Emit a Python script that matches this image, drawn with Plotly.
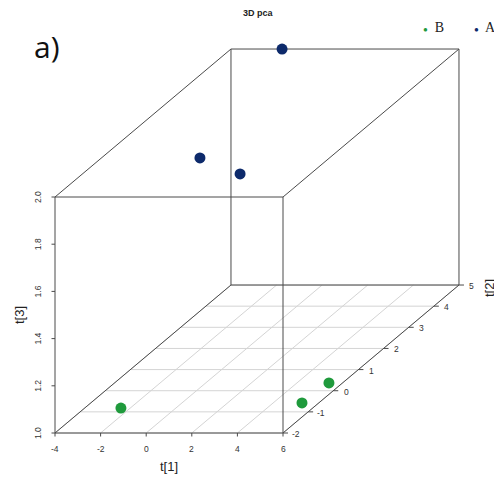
import plotly.graph_objects as go

# ---- data ----
groups = ["B", "A"]
colors = {"B": "#1f9a3c", "A": "#0d2a6b"}
b_t1 = [-1.66, 5.73, 5.81]
b_t2 = [-1.5, -1.0, 0.0]
b_t3 = [1.061, 1.038, 1.033]
a_t1 = [-1.76, -0.95, 0.81]
a_t2 = [5.0, 1.0, 1.0]
a_t3 = [2.0, 1.897, 1.829]

t1_ticks = [-4, -2, 0, 2, 4, 6]
t2_ticks = [-2, -1, 0, 1, 2, 3, 4, 5]
t3_ticks = [1.0, 1.2, 1.4, 1.6, 1.8, 2.0]
t3_labels = ["1.0", "1.2", "1.4", "1.6", "1.8", "2.0"]

# ---- page geometry (browser body margin is 8px) ----
OFF = 8
W, H = 502 - OFF, 485 - OFF

# ---- oblique projection (scatterplot3d style) ----
x0, x1 = t1_ticks[0], t1_ticks[-1]
y0, y1 = t2_ticks[0], t2_ticks[-1]
z0, z1 = t3_ticks[0], t3_ticks[-1]
PX_X = 22.8      # pixels per t1 unit
PX_Z = 236.0     # pixels per t3 unit
DEP_X = 25.14    # pixel shift per t2 unit (horizontal)
DEP_Y = 21.14    # pixel shift per t2 unit (vertical)
ORG_X, ORG_Y = 55, 433   # window pixel of (x0, y0, z0)
kx = DEP_X / PX_X
kz = DEP_Y / PX_Z


def proj(a, b, c):
    return a + (b - y0) * kx, c + (b - y0) * kz


def segs(pairs):
    xs, ys = [], []
    for p, q in pairs:
        X1, Y1 = proj(*p)
        X2, Y2 = proj(*q)
        xs += [X1, X2, None]
        ys += [Y1, Y2, None]
    return xs, ys


def paper(px, py):
    return (px - OFF) / W, 1 - (py - OFF) / H


fig = go.Figure()

# floor grid
grid = []
for v in t2_ticks:
    grid.append(((x0, v, z0), (x1, v, z0)))
for u in t1_ticks:
    grid.append(((u, y0, z0), (u, y1, z0)))
gx, gy = segs(grid)
fig.add_trace(go.Scatter(x=gx, y=gy, mode="lines", line=dict(color="#d4d4d4", width=1),
                         hoverinfo="skip", showlegend=False))

# box
box = [
    ((x0, y0, z0), (x1, y0, z0)), ((x0, y0, z0), (x0, y0, z1)),
    ((x0, y0, z1), (x1, y0, z1)), ((x1, y0, z0), (x1, y0, z1)),
    ((x0, y1, z0), (x1, y1, z0)), ((x0, y1, z0), (x0, y1, z1)),
    ((x0, y1, z1), (x1, y1, z1)), ((x1, y1, z0), (x1, y1, z1)),
    ((x0, y0, z0), (x0, y1, z0)), ((x1, y0, z0), (x1, y1, z0)),
    ((x0, y0, z1), (x0, y1, z1)), ((x1, y0, z1), (x1, y1, z1)),
]
bx, by = segs(box)
fig.add_trace(go.Scatter(x=bx, y=by, mode="lines", line=dict(color="#4a4a4a", width=1),
                         hoverinfo="skip", showlegend=False))

# ticks
tl = 3.5
ticks = []
for u in t1_ticks:
    X, Y = proj(u, y0, z0)
    ticks.append(((X, Y), (X, Y - tl / PX_Z)))
for c in t3_ticks:
    X, Y = proj(x0, y0, c)
    ticks.append(((X, Y), (X - tl / PX_X, Y)))
for v in t2_ticks:
    X, Y = proj(x1, v, z0)
    ticks.append(((X, Y), (X + 5 / PX_X, Y)))
tx, ty = [], []
for p, q in ticks:
    tx += [p[0], q[0], None]
    ty += [p[1], q[1], None]
fig.add_trace(go.Scatter(x=tx, y=ty, mode="lines", line=dict(color="#4a4a4a", width=1),
                         hoverinfo="skip", showlegend=False))

# points
for g, t1, t2, t3 in [("B", b_t1, b_t2, b_t3), ("A", a_t1, a_t2, a_t3)]:
    P = [proj(a, b, c) for a, b, c in zip(t1, t2, t3)]
    fig.add_trace(go.Scatter(x=[p[0] for p in P], y=[p[1] for p in P], mode="markers", name=g,
                             marker=dict(color=colors[g], size=11, line=dict(width=0)),
                             showlegend=False))

tick_font = dict(family="Liberation Sans, Arial", size=8.5, color="#333")
ann = []
for u in t1_ticks:
    X, Y = proj(u, y0, z0)
    ann.append(dict(x=X, y=Y, text=str(u), showarrow=False, yshift=-16, font=tick_font))
for c, lab in zip(t3_ticks, t3_labels):
    X, Y = proj(x0, y0, c)
    ann.append(dict(x=X, y=Y, text=lab, showarrow=False, xshift=-17, textangle=-90, font=tick_font))
for v in t2_ticks:
    X, Y = proj(x1, v, z0)
    ann.append(dict(x=X, y=Y, text=str(v), showarrow=False, xshift=13, yshift=-1, font=tick_font))

lab_font = dict(family="Liberation Sans, Arial", size=13, color="#222")
Xl, Yl = proj((x0 + x1) / 2, y0, z0)
ann.append(dict(x=Xl, y=Yl, text="t[1]", showarrow=False, yshift=-33, font=lab_font))
Xl, Yl = proj(x0, y0, (z0 + z1) / 2)
ann.append(dict(x=Xl, y=Yl, text="t[3]", showarrow=False, xshift=-36, textangle=-90, font=lab_font))
Xl, Yl = proj(x1, y1, z0)
ann.append(dict(x=Xl, y=Yl, text="t[2]", showarrow=False, xshift=30, yshift=-3, textangle=-90, font=lab_font))

# title, panel tag, legend
px_, py_ = paper(258, 13)
ann.append(dict(xref="paper", yref="paper", x=px_, y=py_, xanchor="center", yanchor="middle",
                text="<b>3D pca</b>", showarrow=False,
                font=dict(family="Liberation Sans, Arial", size=9, color="#222")))
px_, py_ = paper(47, 46)
ann.append(dict(xref="paper", yref="paper", x=px_, y=py_, xanchor="center", yanchor="middle",
                text="a)", showarrow=False, font=dict(family="Open Sans", size=30, color="#111")))
leg_font = dict(family="Liberation Serif, Times New Roman", size=14, color="#222")
for g, pxl in [("B", 433), ("A", 485)]:
    px_, py_ = paper(pxl, 27)
    ann.append(dict(xref="paper", yref="paper", x=px_, y=py_, xanchor="center", yanchor="middle",
                    showarrow=False,
                    text=f"<span style='color:{colors[g]};font-size:8px'>●</span>  {g}", font=leg_font))

fig.update_layout(
    width=W, height=H, autosize=False,
    margin=dict(l=0, r=0, t=0, b=0),
    paper_bgcolor="white", plot_bgcolor="white",
    xaxis=dict(range=[x0 - (ORG_X - OFF) / PX_X, x0 + (OFF + W - ORG_X) / PX_X],
               visible=False, fixedrange=True),
    yaxis=dict(range=[z0 - (OFF + H - ORG_Y) / PX_Z, z0 + (ORG_Y - OFF) / PX_Z],
               visible=False, fixedrange=True),
    annotations=ann,
)
fig.write_html("out.html")
